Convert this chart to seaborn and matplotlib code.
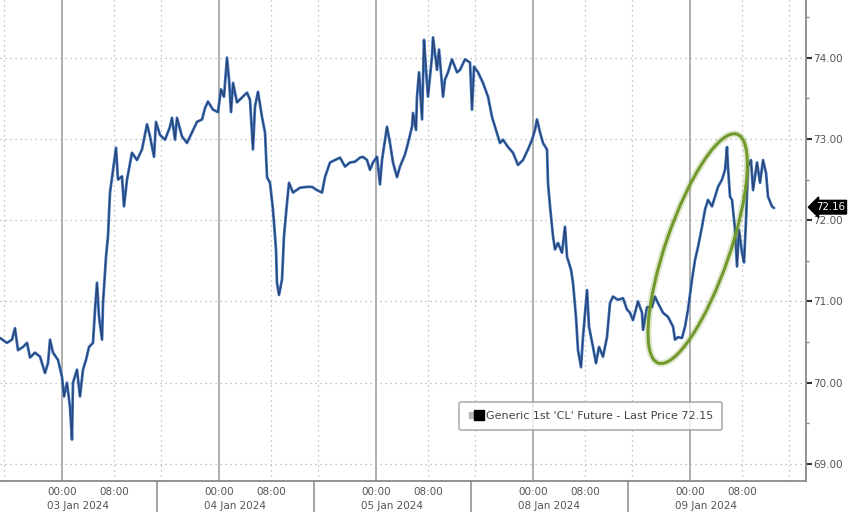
import numpy as np
import pandas as pd
import matplotlib
matplotlib.use("Agg")
import matplotlib.pyplot as plt
import seaborn as sns
from matplotlib.patches import Ellipse
from matplotlib.transforms import IdentityTransform, blended_transform_factory
from matplotlib.lines import Line2D
from matplotlib.legend_handler import HandlerTuple

# trading-time hours since 03 Jan 00:00 (weekend removed), and last price
hours = [
    -9.48, -8.41, -7.65, -7.19, -6.73, -5.96, -5.35, -4.89, -4.13, -3.36, -2.60, -2.14, -1.83, -1.38, -0.61,
    0.00, 0.31, 0.76, 1.22, 1.53, 1.68, 2.29, 2.75, 3.21, 3.67, 4.13, 4.74, 5.05, 5.35, 5.66, 6.12, 6.27,
    6.73, 7.03, 7.34, 7.80, 8.26, 8.56, 9.17, 9.48, 9.94, 10.70, 11.47, 12.23, 13.00, 13.46, 14.07, 14.37,
    14.98, 15.75, 16.51, 16.82, 17.28, 17.58, 18.35, 19.11, 19.88, 20.64, 21.41, 21.87, 22.32, 23.09, 23.85,
    24.31, 24.77, 25.23, 25.54, 25.84, 26.15, 26.76, 27.52, 28.29, 28.75, 29.20, 29.51, 29.97, 30.58, 31.04,
    31.35, 31.80, 32.26, 32.72, 32.87, 33.18, 33.64, 33.94, 34.40, 34.71, 35.32, 36.39, 37.46, 38.23, 38.99,
    39.76, 40.21, 40.98, 41.74, 42.51, 43.27, 44.04, 44.80, 45.57, 46.02, 46.64, 47.09, 47.55, 48.17, 48.62,
    48.93, 49.39, 49.69, 50.15, 50.61, 51.22, 51.68, 52.45, 52.91, 53.52, 53.67, 54.13, 54.28, 54.59, 55.05,
    55.35, 55.66, 55.96, 56.57, 56.73, 57.34, 57.65, 58.26, 58.56, 59.02, 59.63, 60.40, 60.86, 61.62, 62.39,
    62.69, 63.00, 63.61, 64.37, 65.14, 65.75, 66.21, 66.97, 67.43, 68.20, 68.96, 69.72, 70.49, 71.25, 71.87,
    72.32, 72.63, 73.09, 73.55, 74.16, 74.31, 74.62, 75.08, 75.38, 75.84, 76.45, 76.91, 77.22, 77.83, 78.13,
    78.59, 78.90, 79.36, 79.66, 80.28, 80.58, 81.19, 81.65, 82.11, 82.72, 83.33, 83.79, 84.25, 85.02, 85.78,
    86.39, 86.85, 87.31, 88.07, 88.69, 88.84, 89.45, 90.21, 90.67, 91.13, 91.90, 92.66, 93.43, 93.73, 94.19,
    94.80, 95.26, 95.72, 96.33, 96.79, 97.25, 97.86, 98.32, 98.78, 99.39, 99.85, 100.31, 100.92, 101.38,
    101.68, 101.83, 102.14, 102.45, 102.91, 103.21, 103.52, 103.98, 104.28, 104.59, 104.89, 105.35, 105.66,
    106.27, 106.73, 107.19, 107.65, 107.95, 108.56, 108.87,
]
prices = [
    70.55, 70.49, 70.53, 70.67, 70.40, 70.44, 70.49, 70.31, 70.37, 70.32, 70.12, 70.24, 70.53, 70.37, 70.28,
    70.07, 69.83, 70.00, 69.70, 69.30, 70.00, 70.16, 69.83, 70.16, 70.28, 70.44, 70.49, 70.90, 71.23, 70.81,
    70.53, 70.98, 71.55, 71.80, 72.34, 72.62, 72.89, 72.50, 72.54, 72.17, 72.50, 72.83, 72.74, 72.87, 73.18,
    73.03, 72.78, 73.21, 73.05, 72.99, 73.15, 73.26, 72.99, 73.26, 73.03, 72.95, 73.08, 73.21, 73.24, 73.38,
    73.46, 73.36, 73.33, 73.61, 73.52, 74.00, 73.73, 73.33, 73.69, 73.45, 73.51, 73.57, 73.48, 72.87, 73.40,
    73.58, 73.27, 73.08, 72.53, 72.46, 72.13, 71.64, 71.23, 71.08, 71.27, 71.80, 72.21, 72.46, 72.34, 72.40,
    72.41, 72.41, 72.37, 72.34, 72.53, 72.71, 72.74, 72.77, 72.66, 72.71, 72.72, 72.77, 72.78, 72.74, 72.62,
    72.71, 72.78, 72.44, 72.74, 72.99, 73.15, 72.95, 72.71, 72.53, 72.66, 72.81, 72.95, 73.15, 73.32, 73.11,
    73.52, 73.82, 73.24, 74.22, 73.85, 73.52, 74.01, 74.25, 73.85, 74.10, 73.52, 73.73, 73.82, 73.98, 73.82,
    73.85, 73.98, 73.94, 73.36, 73.89, 73.82, 73.69, 73.52, 73.27, 73.15, 72.95, 72.99, 72.90, 72.83, 72.68,
    72.74, 72.87, 72.99, 73.11, 73.24, 73.08, 72.95, 72.87, 72.46, 72.17, 71.80, 71.64, 71.72, 71.60, 71.92,
    71.55, 71.39, 71.23, 70.81, 70.40, 70.19, 70.56, 71.14, 70.69, 70.44, 70.24, 70.44, 70.32, 70.56, 70.98,
    71.06, 71.02, 71.04, 70.90, 70.86, 70.77, 71.00, 70.86, 70.65, 70.93, 70.93, 71.06, 70.98, 70.86, 70.81,
    70.69, 70.53, 70.56, 70.55, 70.69, 70.90, 71.27, 71.51, 71.67, 71.92, 72.13, 72.25, 72.17, 72.29, 72.41,
    72.50, 72.62, 72.90, 72.66, 72.29, 72.25, 71.88, 71.43, 71.88, 71.60, 71.48, 72.00, 72.66, 72.74, 72.37,
    72.71, 72.46, 72.74, 72.58, 72.29, 72.17, 72.15,
]

day_labels = ["03 Jan 2024", "04 Jan 2024", "05 Jan 2024", "08 Jan 2024", "09 Jan 2024"]
y_ticks = [69, 70, 71, 72, 73, 74]
last_tag = 72.16
legend_text = "Generic 1st 'CL' Future - Last Price 72.15"

df = pd.DataFrame({"hour": hours, "price": prices})

sns.set_style("white")
plt.rcParams["font.family"] = ["DejaVu Sans"]

fig = plt.figure(figsize=(8.48, 5.12), dpi=100)
ax = fig.add_axes([0.0, 31 / 512, 806 / 848, 481 / 512])

GRID = "#b0b0b0"
# vertical grid: solid at midnight, dotted at 08:00 and the afternoon break
for d in range(-1, 5):
    base = d * 24
    if d >= 0:
        ax.axvline(base, color="#9a9a9a", lw=1.1, zorder=0)
        ax.axvline(base + 8, color=GRID, lw=0.9, ls=(0, (1, 3)), zorder=0)
    ax.axvline(base + 15.2, color=GRID, lw=0.9, ls=(0, (1, 3)), zorder=0)
for yv in y_ticks:
    ax.axhline(yv, color=GRID, lw=0.9, ls=(0, (1, 3)), zorder=0)

sns.lineplot(data=df, x="hour", y="price", ax=ax, color="#4277c4", lw=2.0, zorder=3)
sns.lineplot(data=df, x="hour", y="price", ax=ax, color="#18213a", lw=0.9, alpha=0.6, zorder=4)

ax.set_xlim(-9.48, 113.76)
ax.set_ylim(68.79, 74.71)
ax.set_xlabel("")
ax.set_ylabel("")

# axes / spines
for s in ["left", "top"]:
    ax.spines[s].set_visible(False)
for s in ["right", "bottom"]:
    ax.spines[s].set_color("#8a8a8a")
    ax.spines[s].set_linewidth(1.3)

ax.yaxis.tick_right()
ax.set_yticks(y_ticks)
ax.set_yticklabels([f"{v:.2f}" for v in y_ticks])
ax.set_yticks([v + 0.5 for v in y_ticks[:-1]] + [74.5], minor=True)
ax.tick_params(axis="y", which="major", direction="out", length=4, width=1.5,
               color="#333333", labelsize=7.5, labelcolor="#555555", pad=1)
ax.tick_params(axis="y", which="minor", direction="out", length=2, width=1,
               color="#888888")

xt, xl = [], []
for d in range(5):
    xt += [d * 24, d * 24 + 8]
    xl += ["00:00", "08:00"]
ax.set_xticks(xt)
ax.set_xticklabels(xl)
ax.set_xticks(np.arange(-8, 113, 4), minor=True)
ax.tick_params(axis="x", which="both", direction="in", length=3, width=1,
               color="#555555", labelsize=7.5, labelcolor="#555555", pad=4)

trans = blended_transform_factory(ax.transData, ax.transAxes)
for d, lab in enumerate(day_labels):
    ax.text(d * 24 + 2.5, -0.052, lab, transform=trans, ha="center", va="center",
            fontsize=7.5, color="#555555")
    if d < len(day_labels) - 1:
        ax.plot([d * 24 + 14.5] * 2, [0, -0.07], transform=trans, color="#8a8a8a",
                lw=1.1, clip_on=False)

# last price tag
tag_trans = blended_transform_factory(ax.transAxes, ax.transData)
ax.text(1.012, last_tag, f"{last_tag:.2f}", transform=tag_trans, ha="left", va="center",
        fontsize=7.3, color="white",
        bbox=dict(boxstyle="larrow,pad=0.18", fc="black", ec="black"))

# legend
h_grey = Line2D([], [], marker="s", ls="", color="#b8b8b8", markersize=4)
h_black = Line2D([], [], marker="s", ls="", color="black", markersize=7)
leg = ax.legend([(h_grey, h_black)], [legend_text], loc="center",
                bbox_to_anchor=(0.733, 0.135), fontsize=8.0, frameon=True, fancybox=True,
                handler_map={tuple: HandlerTuple(ndivide=None, pad=0.1)},
                handlelength=1.3, handletextpad=0.3, borderpad=0.8)
leg.get_frame().set_edgecolor("#9a9a9a")
leg.get_frame().set_linewidth(1.2)
for t in leg.get_texts():
    t.set_color("#444444")

# highlight ellipse around the 09 Jan rally
cx, cy = ax.transData.transform((97.2, 71.65))
for lw, a in [(5, 0.22), (2.2, 1.0)]:
    ax.add_patch(Ellipse((cx, cy), 242, 64, angle=71, transform=IdentityTransform(),
                         fill=False, ec="#72992c", lw=lw, alpha=a, zorder=5))

fig.savefig("out.png", dpi=100, facecolor="white")
